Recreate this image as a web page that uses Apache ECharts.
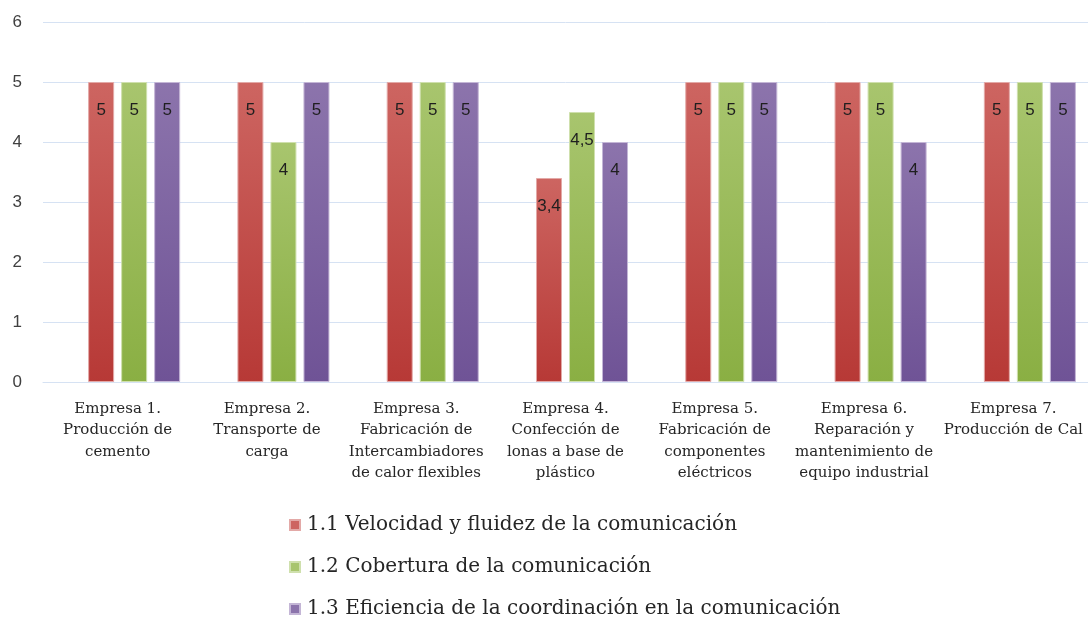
<!DOCTYPE html>
<html>
<head>
<meta charset="utf-8">
<script src="https://cdn.jsdelivr.net/npm/echarts@6/dist/echarts.min.js"></script>
<style>
html,body{margin:0;padding:0;background:#fff;}
#chart{width:1088px;height:619px;}
</style>
</head>
<body>
<div id="chart"></div>
<script>
const categories = [
  "Empresa 1.\nProducción de\ncemento",
  "Empresa 2.\nTransporte de\ncarga",
  "Empresa 3.\nFabricación de\nIntercambiadores\nde calor flexibles",
  "Empresa 4.\nConfección de\nlonas a base de\nplástico",
  "Empresa 5.\nFabricación de\ncomponentes\neléctricos",
  "Empresa 6.\nReparación y\nmantenimiento de\nequipo industrial",
  "Empresa 7.\nProducción de Cal"
];
const seriesNames = [
  "1.1 Velocidad y fluidez de la comunicación",
  "1.2 Cobertura de la comunicación",
  "1.3 Eficiencia de la coordinación en la comunicación"
];
const velocidad = [5, 5, 5, 3.4, 5, 5, 5];
const cobertura = [5, 4, 5, 4.5, 5, 5, 5];
const eficiencia = [5, 5, 5, 4, 5, 4, 5];
const emptySlot = [null, null, null, null, null, null, null];
const yTicks = [0, 1, 2, 3, 4, 5, 6];

const colors = [
  ['#cd6561', '#b73936', '#e3a9a7'],
  ['#a8c56e', '#8aaf43', '#cfe0ad'],
  ['#8c74ac', '#6f5396', '#c4b6d6']
];

function grad(c) {
  return new echarts.graphic.LinearGradient(0, 0, 0, 1, [
    {offset: 0, color: c[0]}, {offset: 1, color: c[1]}
  ]);
}

const labelCfg = {
  show: true,
  position: 'insideTop',
  distance: 20,
  fontFamily: 'Liberation Sans, Arial, sans-serif',
  fontSize: 17,
  color: '#1f1f1f',
  formatter: p => String(p.value).replace('.', ',')
};

const values = [velocidad, cobertura, eficiencia];
const series = [{
  name: '',
  type: 'bar',
  barWidth: 26,
  barGap: '27%',
  data: emptySlot
}];
values.forEach((v, i) => {
  series.push({
    name: seriesNames[i],
    type: 'bar',
    barWidth: 26,
    barGap: '27%',
    data: v,
    itemStyle: {color: grad(colors[i]), borderColor: colors[i][2], borderWidth: 1},
    label: labelCfg
  });
});

const chart = echarts.init(document.getElementById('chart'), null, {renderer: 'canvas'});
chart.setOption({
  animation: false,
  backgroundColor: '#ffffff',
  color: [colors[0][0], colors[0][0], colors[1][0], colors[2][0]],
  grid: {left: 43, right: -5, top: 22, bottom: 237, containLabel: false},
  legend: {
    data: seriesNames.map(n => ({name: n, itemStyle: {color: colors[seriesNames.indexOf(n)][0]}})),
    orient: 'vertical',
    left: 284,
    top: 510,
    height: 200,
    itemWidth: 10,
    itemHeight: 10,
    itemGap: 22,
    icon: 'rect',
    textStyle: {fontFamily: 'DejaVu Serif, serif', fontSize: 20, color: '#262626', padding: [0,0,0,2]}
  },
  xAxis: {
    type: 'category',
    data: categories,
    axisLine: {lineStyle: {color: '#d6e2f3', width: 1}},
    axisTick: {show: false},
    axisLabel: {
      interval: 0,
      margin: 16,
      fontFamily: 'DejaVu Serif, serif',
      fontSize: 15,
      lineHeight: 21.5,
      color: '#262626'
    }
  },
  yAxis: {
    type: 'value',
    min: yTicks[0],
    max: yTicks[yTicks.length - 1],
    interval: 1,
    axisLine: {show: false},
    axisTick: {show: false},
    splitLine: {lineStyle: {color: '#d6e2f3', width: 1}},
    axisLabel: {
      margin: 21,
      fontFamily: 'Liberation Sans, Arial, sans-serif',
      fontSize: 17,
      color: '#404040'
    }
  },
  series: series
});
</script>
</body>
</html>
